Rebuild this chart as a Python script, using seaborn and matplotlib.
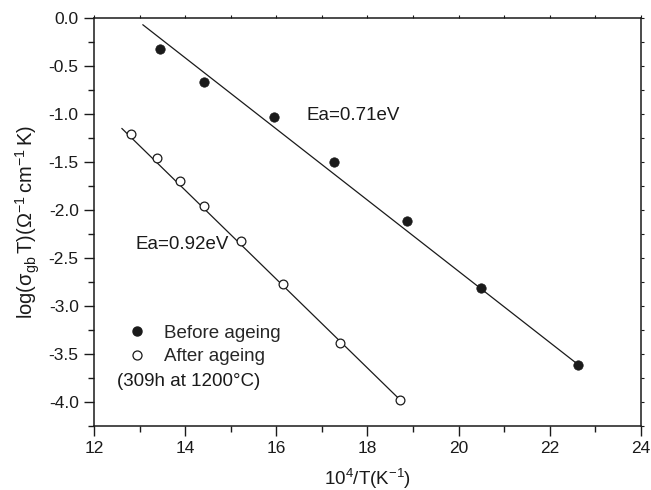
import numpy as np
import matplotlib
matplotlib.use("Agg")
import matplotlib.pyplot as plt
from matplotlib.ticker import MultipleLocator
from matplotlib.lines import Line2D
import seaborn as sns

# 10^4/T (K^-1) and log(sigma_gb*T) before ageing
before_x = [13.45, 14.42, 15.95, 17.26, 18.86, 20.49, 22.62]
before_y = [-0.32, -0.67, -1.03, -1.50, -2.11, -2.81, -3.61]
# after ageing for 309 h at 1200 °C
after_x = [12.81, 13.38, 13.88, 14.42, 15.23, 16.15, 17.39, 18.72]
after_y = [-1.21, -1.46, -1.70, -1.96, -2.32, -2.77, -3.39, -3.98]

# end points of the Arrhenius fit lines
before_fit_x = [13.07, 22.62]
before_fit_y = [-0.07, -3.61]
after_fit_x = [12.61, 18.72]
after_fit_y = [-1.15, -3.98]

series_labels = ["Before ageing", "After ageing"]
ea_labels = ["Ea=0.71eV", "Ea=0.92eV"]
ageing_note = "(309h at 1200\u00b0C)"
x_ticks = [12, 14, 16, 18, 20, 22, 24]
y_ticks = [0.0, -0.5, -1.0, -1.5, -2.0, -2.5, -3.0, -3.5, -4.0]

sns.set_style("ticks")
plt.rcParams["font.family"] = ["Liberation Sans", "DejaVu Sans"]
plt.rcParams["mathtext.default"] = "regular"

W, H = 651, 490
fig = plt.figure(figsize=(W / 100, H / 100), dpi=100)
ax = fig.add_axes([94 / W, 1 - 426 / H, (641 - 94) / W, (426 - 18) / H])

FS = 13.5
INK = "#1a1a1a"

# Arrhenius fit lines
for fx, fy in [(before_fit_x, before_fit_y), (after_fit_x, after_fit_y)]:
    sns.lineplot(x=fx, y=fy, ax=ax, color=INK, linewidth=0.9, legend=False)

sns.scatterplot(x=before_x, y=before_y, ax=ax, color=INK, edgecolor=INK,
                s=46, linewidth=0.5, legend=False, zorder=3)
sns.scatterplot(x=after_x, y=after_y, ax=ax, color="white", edgecolor=INK,
                s=40, linewidth=0.9, legend=False, zorder=3)

ax.set_xlim(12, 24)
ax.set_ylim(-4.25, 0)
ax.set_xticks(x_ticks)
ax.set_yticks(y_ticks)
ax.set_yticklabels([f"{v:.1f}" for v in y_ticks])
ax.xaxis.set_minor_locator(MultipleLocator(1))
ax.yaxis.set_minor_locator(MultipleLocator(0.25))
ax.tick_params(which="major", direction="out", length=7, width=1.0,
               labelsize=12.5, color=INK, labelcolor=INK, pad=4)
ax.tick_params(which="minor", direction="out", length=4, width=1.0, color=INK)

# short ticks on the opposite frame edges
top = ax.secondary_xaxis("top")
top.set_xticks(x_ticks)
top.xaxis.set_minor_locator(MultipleLocator(1))
top.tick_params(which="both", direction="out", length=2.5, width=0.8,
                labeltop=False, color=INK)
right = ax.secondary_yaxis("right")
right.set_yticks(y_ticks)
right.yaxis.set_minor_locator(MultipleLocator(0.25))
right.tick_params(which="both", direction="out", length=2.5, width=0.8,
                  labelright=False, color=INK)
for sp in list(ax.spines.values()):
    sp.set_visible(True)
    sp.set_color(INK)
    sp.set_linewidth(1.1)
top.spines["top"].set_visible(False)
right.spines["right"].set_visible(False)

ax.set_xlabel("10$^4$/T(K$^{-1}$)", fontsize=FS, color=INK, labelpad=8)
ax.set_ylabel("log(\u03c3$_{gb}\\,$T)(\u03a9$^{-1}\\,$cm$^{-1}\\,$K)",
              fontsize=14.5, color=INK, labelpad=5)

ax.text(16.67, -1.02, ea_labels[0], fontsize=FS, color=INK,
        ha="left", va="center")
ax.text(12.9, -2.36, ea_labels[1], fontsize=FS, color=INK,
        ha="left", va="center")

handles = [
    Line2D([], [], ls="", marker="o", ms=6.5, mfc=INK, mec=INK),
    Line2D([], [], ls="", marker="o", ms=6.5, mfc="white", mec=INK, mew=0.9),
]
ax.legend(handles, series_labels, loc="center left",
          bbox_to_anchor=(0.062, 0.1985), frameon=False, fontsize=FS,
          handlelength=1.0, handletextpad=0.95, labelspacing=0.33,
          borderpad=0, borderaxespad=0)
ax.text(12.5, -3.79, ageing_note, fontsize=FS, color=INK,
        ha="left", va="center")

fig.savefig("out.png", dpi=100)
